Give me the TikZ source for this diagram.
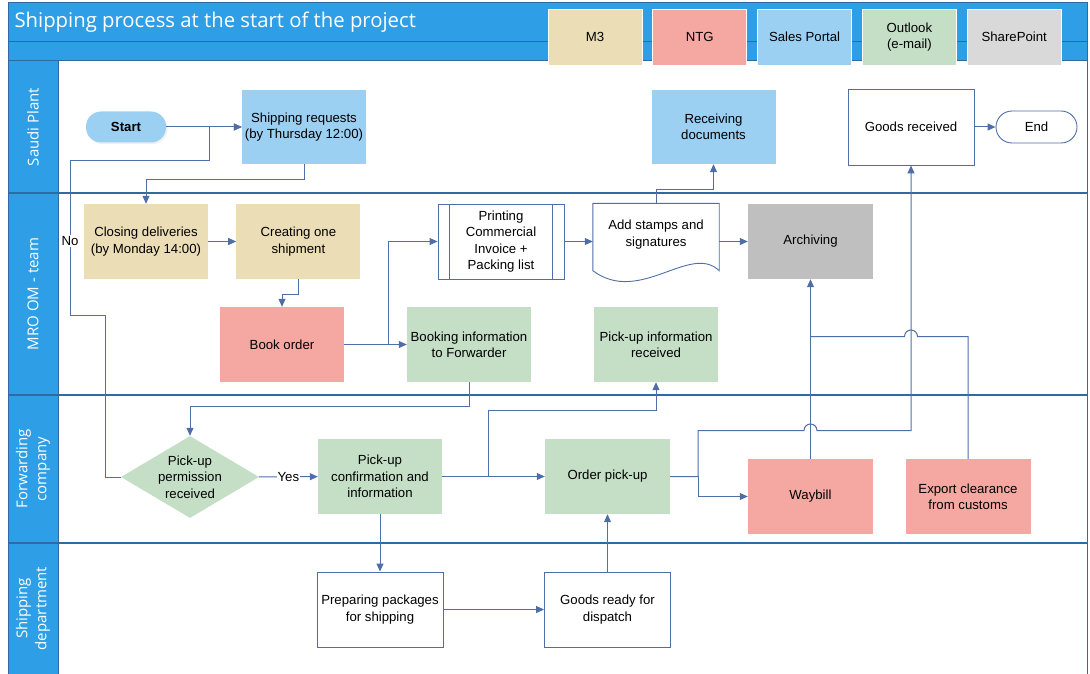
\documentclass[tikz,border=0pt]{standalone}
\usepackage{fontspec}
\setmainfont{Liberation Sans}
\newfontfamily\headfont{Open Sans}
\usepackage{xcolor}
\usepackage{tikz}
\usetikzlibrary{positioning,arrows.meta,shapes.geometric,shadows}

\definecolor{headblue}{HTML}{2E9FE6}
\definecolor{laneline}{HTML}{2F6AA3}
\definecolor{linkblue}{HTML}{4F6EA8}
\definecolor{mthree}{HTML}{EBDDB5}
\definecolor{ntg}{HTML}{F5A7A2}
\definecolor{portal}{HTML}{9CD0F3}
\definecolor{outlook}{HTML}{C4DFC6}
\definecolor{sharept}{HTML}{D9D9D9}
\definecolor{archgray}{HTML}{BFBFBF}

\begin{document}
\begin{tikzpicture}[
    x=1pt,y=-1pt,
    box/.style={align=center,minimum width=124pt,minimum height=75pt,inner sep=2pt,
      font=\fontsize{13.2}{16.3}\selectfont},
    plain/.style={box,fill=white,draw=linkblue,line width=0.9pt},
    legend/.style={box,minimum width=94pt,minimum height=56pt,draw=white,line width=0.8pt},
    lanetitle/.style={rotate=90,text=white,align=center,font=\headfont\fontsize{15}{19}\selectfont},
    pill/.style={box,minimum width=80pt,minimum height=31pt,rounded corners=15pt},
    link/.style={draw=linkblue,line width=1pt},
    tag/.style={fill=white,inner sep=1pt,font=\fontsize{13.2}{16}\selectfont},
    node distance=28pt,
    >={Triangle[length=8pt,width=7pt]}
  ]
    \useasboundingbox (0,0) rectangle (1090,674);

    % header and lanes
    \fill[headblue] (8,3) rectangle (1088,61);
    \fill[headblue] (8,61) rectangle (58,674);
    \draw[laneline,line width=1pt] (8,42) -- (1088,42);
    \draw[laneline,line width=1pt] (8,61) -- (1088,61);
    \draw[laneline,line width=1pt] (58,61) -- (58,674);
    \foreach \y in {193,395,543}
      \draw[laneline,line width=1.2pt] (8,\y) -- (1087,\y);
    \draw[laneline,line width=1pt] (8,3) rectangle (1087,676);

    \node[anchor=west,text=white,font=\headfont\fontsize{20.3}{23}\selectfont] (title) at (11,22.5)
      {Shipping process at the start of the project};

    \node[lanetitle] (lsaudi) at (33,127) {Saudi Plant};
    \node[lanetitle] (lmro) at (33,294) {MRO OM - team};
    \node[lanetitle] (lfwd) at (33,469) {Forwarding\\company};
    \node[lanetitle] (lship) at (33,608.5) {Shipping\\department};

    % legend
    \node[legend,fill=mthree] (legm3) at (595,37) {M3};
    \node[legend,fill=ntg,right=10pt of legm3] (legntg) {NTG};
    \node[legend,fill=portal,right=10pt of legntg] (legportal) {Sales Portal};
    \node[legend,fill=outlook,right=10pt of legportal] (legoutlook) {Outlook\\(e-mail)};
    \node[legend,fill=sharept,right=10pt of legoutlook] (legsharept) {SharePoint};

    % Saudi Plant
    \node[pill,fill=portal,drop shadow={shadow xshift=1.5pt,shadow yshift=-1.5pt,opacity=0.12}] (start) at (126,127) {\bfseries Start};
    \node[box,fill=portal,minimum height=74pt] (shipreq) at (304,127) {Shipping requests\\(by Thursday 12:00)};
    \node[box,fill=portal,minimum height=74pt] (recdocs) at (713.5,127) {Receiving\\documents};
    \node[plain,minimum width=126pt,minimum height=76pt] (goodsrec) at (911,127) {Goods received};
    \node[pill,fill=white,draw=linkblue,line width=0.9pt,minimum width=81pt,minimum height=32pt,rounded corners=16pt] (finish) at (1036.5,127) {End};

    % MRO OM - team
    \node[box,fill=mthree] (closing) at (146,241.5) {Closing deliveries\\(by Monday 14:00)};
    \node[box,fill=mthree,right=of closing] (creating) {Creating one\\shipment};
    \node[box,fill=ntg] (bookorder) at (282,344.5) {Book order};
    \node[plain,minimum width=126pt] (printing) at (501,241.5) {Printing\\Commercial\\Invoice +\\Packing list};
    \draw[linkblue,line width=0.9pt] ([xshift=12pt]printing.north west) -- ([xshift=12pt]printing.south west)
      ([xshift=-12pt]printing.north east) -- ([xshift=-12pt]printing.south east);
    \node[box,minimum width=126pt,minimum height=76pt] (stamps) at (656,241.5) {};
    \draw[linkblue,line width=0.9pt,fill=white] (stamps.north west) -- (stamps.north east) -- ([yshift=9pt]stamps.south east)
      .. controls +(-29pt,28pt) and +(47pt,-35pt) .. ([yshift=9pt]stamps.south west) -- cycle;
    \node[box,minimum width=126pt,minimum height=76pt] at (stamps) {Add stamps and\\signatures\\ \mbox{}};
    \node[box,fill=archgray,minimum width=125pt] (archiving) at (810.5,241.5) {Archiving};
    \node[box,fill=outlook] (bookinfo) at (469,344.5) {Booking information\\to Forwarder};
    \node[box,fill=outlook] (pickinfo) at (656,344.5) {Pick-up information\\received};

    % Forwarding company
    \node[diamond,fill=outlook,align=center,inner sep=0pt,shape aspect=1.68,minimum width=138pt,minimum height=82pt,
      font=\fontsize{13.2}{16.3}\selectfont] (permission) at (190,477) {Pick-up\\permission\\received};
    \node[box,fill=outlook] (pickconf) at (380,476.5) {Pick-up\\confirmation and\\information};
    \node[box,fill=outlook,minimum width=125pt] (orderpick) at (607.5,476.5) {Order pick-up};
    \node[box,fill=ntg,minimum width=125pt] (waybill) at (810.5,496.5) {Waybill};
    \node[box,fill=ntg,minimum width=125pt] (export) at (968,496.5) {Export clearance\\from customs};

    % Shipping department
    \node[plain,minimum width=126pt] (preparing) at (380,609.5) {Preparing packages\\for shipping};
    \node[plain,minimum width=126pt] (goodsready) at (607.5,609.5) {Goods ready for\\dispatch};

    % connectors
    \coordinate (jumpA) at (810.5,430.5);
    \coordinate (jumpB) at (911,336.5);
    \draw[link,->] (start) -- (shipreq);
    \draw[link,->] (permission.west) -| (105,315) -| (70,161) -| (209.5,127) -- (shipreq.west);
    \node[tag] (no) at (70,241) {No};
    \draw[link,->] (shipreq.south) -- ++(0,15) -| (closing.north);
    \draw[link,->] (closing) -- (creating);
    \draw[link,->] (creating.south) -- ++(0,15) -| (bookorder.north);
    \draw[link,->] (bookorder) -- (bookinfo);
    \draw[link,->] (bookorder.east) -- ++(44.5,0) |- (printing.west);
    \draw[link,->] (printing) -- (stamps);
    \draw[link,->] (stamps) -- (archiving);
    \draw[link,->] (stamps.north) -- ++(0,-14) -| (recdocs.south);
    \draw[link,->] (goodsrec) -- (finish);
    \draw[link,->] (bookinfo.south) -- ++(0,24) -| (permission.north);
    \draw[link,->] (permission) -- node[tag] (yes) {Yes} (pickconf);
    \draw[link,->] (pickconf) -- (orderpick);
    \draw[link,->] (pickconf.east) -- ++(46,0) -- ++(0,-66) -| (pickinfo.south);
    \draw[link,->] (pickconf) -- (preparing);
    \draw[link,->] (preparing) -- (goodsready);
    \draw[link,->] (goodsready) -- (orderpick);
    \draw[link,->] (orderpick.east) -- ++(28,0) |- (waybill.west);
    \draw[link,->] (orderpick.east) -- ++(28,0) |- ([xshift=-6.5pt]jumpA)
      arc[start angle=180,end angle=0,radius=6.5pt] -| (goodsrec.south);
    \draw[link,->] (waybill) -- (archiving);
    \draw[link] (export.north) |- ([xshift=6.5pt]jumpB)
      arc[start angle=0,end angle=180,radius=6.5pt] -- (waybill.north |- jumpB);
\end{tikzpicture}
\end{document}
